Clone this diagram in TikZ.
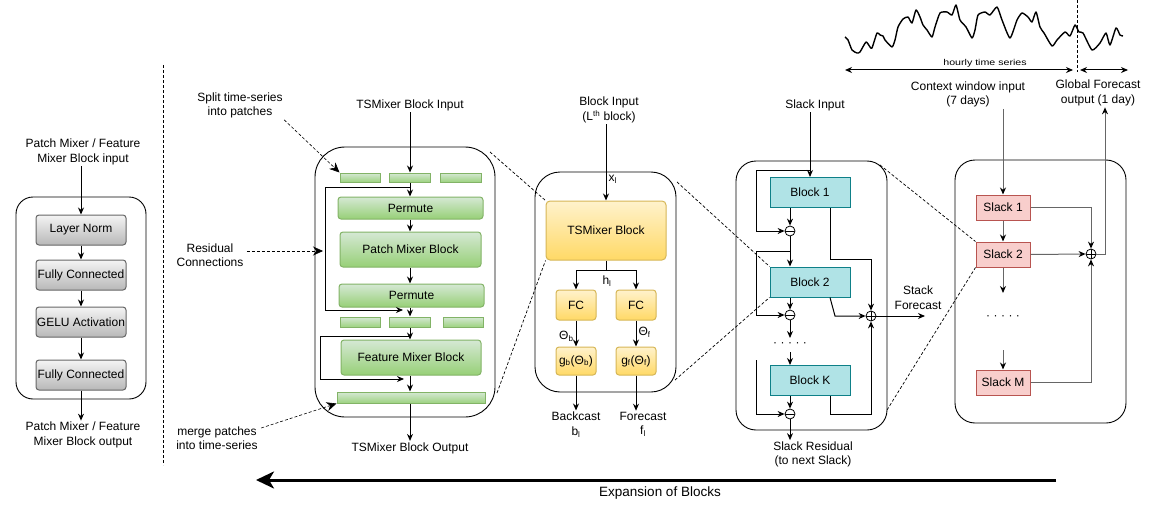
\documentclass[tikz,border=0pt]{standalone}
\usepackage{fontspec}
\setmainfont{Liberation Sans}
\usetikzlibrary{arrows.meta,calc}

\definecolor{grayedge}{HTML}{666666}
\definecolor{graytop}{HTML}{F4F4F4}
\definecolor{graybot}{HTML}{B8B8B8}
\definecolor{greenedge}{HTML}{82B366}
\definecolor{greentop}{HTML}{D5E8D4}
\definecolor{greenbot}{HTML}{97D077}
\definecolor{orangeedge}{HTML}{D6B656}
\definecolor{orangetop}{HTML}{FFF2CC}
\definecolor{orangebot}{HTML}{FFD966}
\definecolor{tealedge}{HTML}{0E8088}
\definecolor{tealfill}{HTML}{B0E3E6}
\definecolor{pinkedge}{HTML}{B85450}
\definecolor{pinkfill}{HTML}{F8CECC}

\begin{document}
\begin{tikzpicture}[
    x=1pt, y=-1pt,
    font=\fontsize{12}{14.5}\selectfont,
    line width=1pt,
    >={Stealth[length=7pt, width=6pt]},
    lbl/.style={align=center, inner sep=1pt},
    panel/.style={draw=black, line width=0.9pt},
    grayblk/.style={draw=grayedge, top color=graytop, bottom color=graybot, rounded corners=3pt,
      minimum width=90pt, minimum height=30pt, inner sep=0pt},
    greenblk/.style={draw=greenedge, top color=greentop, bottom color=greenbot, rounded corners=3pt, inner sep=0pt},
    patchblk/.style={draw=greenedge, top color=greentop, bottom color=greenbot!90!greentop, inner sep=0pt},
    orangeblk/.style={draw=orangeedge, top color=orangetop, bottom color=orangebot, rounded corners=4pt, inner sep=0pt},
    tealblk/.style={draw=tealedge, fill=tealfill, minimum width=80pt, minimum height=30pt, inner sep=0pt},
    pinkblk/.style={draw=pinkedge, fill=pinkfill, minimum width=54pt, minimum height=25pt, inner sep=0pt},
    diffop/.style={circle, draw, fill=white, line width=0.8pt, inner sep=0pt, minimum size=10pt,
      path picture={\draw[line width=0.8pt] (path picture bounding box.west) -- (path picture bounding box.east);}},
    sumop/.style={circle, draw, fill=white, line width=0.8pt, inner sep=0pt, minimum size=10pt,
      path picture={\draw[line width=0.8pt] (path picture bounding box.west) -- (path picture bounding box.east)
        (path picture bounding box.north) -- (path picture bounding box.south);}},
    annot/.style={line width=0.6pt, dash pattern=on 3pt off 2pt, -{Stealth[length=10pt, width=9pt]}},
    zoomln/.style={line width=0.7pt, dash pattern=on 3pt off 2pt},
    slk/.style={draw=grayedge, -{Stealth[length=7pt, width=6pt, black]}}
  ]
  \useasboundingbox (0,0) rectangle (1159,519);

  % ---------- mixer block (left)
  \node[panel, rounded corners=17pt, minimum width=130pt, minimum height=202pt] (lnPanel) at (81,298) {};
  \node[lbl] (mixIn) at (83,152) {Patch Mixer / Feature\\Mixer Block input};
  \node[grayblk] (ln1) at (81,230) {Layer Norm};
  \node[grayblk] (fc1) at (81,275) {Fully Connected};
  \node[grayblk] (gelu) at (81,322) {GELU Activation};
  \node[grayblk] (fc2) at (81,375) {Fully Connected};
  \node[lbl] (mixOut) at (83,435) {Patch Mixer / Feature\\Mixer Block output};
  \draw[->] (ln1.north |- mixIn.south) -- (ln1.north);
  \draw[->] (ln1) -- (fc1);
  \draw[->] (fc1) -- (gelu);
  \draw[->] (gelu) -- (fc2);
  \draw[->] (fc2.south) -- (fc2.south |- mixOut.north);

  % separator
  \draw[line width=0.8pt, dash pattern=on 3pt off 2pt] (163,65) -- (163,465);

  % ---------- TSMixer block
  \node[panel, rounded corners=30pt, minimum width=180pt, minimum height=270pt] (tsPanel) at (405,282) {};
  \node[lbl] (tsIn) at (410,105) {TSMixer Block Input};
  \node[patchblk, minimum width=40pt, minimum height=9pt] (pa1) at (360,177.5) {};
  \node[patchblk, minimum width=41pt, minimum height=9pt] (pa2) at (410,177.5) {};
  \node[patchblk, minimum width=41pt, minimum height=9pt] (pa3) at (460.5,177.5) {};
  \node[greenblk, minimum width=145pt, minimum height=22pt] (perm1) at (410.5,208) {Permute};
  \node[greenblk, minimum width=141pt, minimum height=35pt] (pmix) at (410.5,249.5) {Patch Mixer Block};
  \node[greenblk, minimum width=145pt, minimum height=23pt] (perm2) at (411.5,295.5) {Permute};
  \node[patchblk, minimum width=40pt, minimum height=10pt] (pb1) at (360,322) {};
  \node[patchblk, minimum width=41pt, minimum height=10pt] (pb2) at (410,322) {};
  \node[patchblk, minimum width=40pt, minimum height=10pt] (pb3) at (463,322) {};
  \node[greenblk, minimum width=140pt, minimum height=35pt] (fmix) at (411,357.5) {Feature Mixer Block};
  \node[patchblk, minimum width=148pt, minimum height=11pt] (mrg) at (411,397.5) {};
  \node[lbl] (tsOut) at (410,448) {TSMixer Block Output};
  \draw[->] (pa2.north |- tsIn.south) -- (pa2.north);
  \draw[->] (pa2.south) -- (pa2.south |- perm1.north);
  \draw[->] (pa2.south |- perm1.south) -- (pa2.south |- pmix.north);
  \draw[->] (pa2.south |- pmix.south) -- (pa2.south |- perm2.north);
  \draw[->] (pa2.south |- perm2.south) -- (pb2.north);
  \draw[->] (pb2.south) -- (pb2.south |- fmix.north);
  \draw[->] (pb2.south |- fmix.south) -- (pb2.south |- mrg.north);
  \draw[->] (pb2.south |- mrg.south) -- (pb2.south |- tsOut.north);
  % residual loops
  \coordinate (res1s) at (410,187);
  \coordinate (res1e) at (403,310);
  \draw[->] (res1s) -- (325,187) -- (325,310) -- (res1e);
  \coordinate (res2s) at (410,336);
  \coordinate (res2e) at (404,379);
  \draw[->] (res2s) -- (320,336) -- (320,379) -- (res2e);

  % notes
  \node[lbl] (splitLbl) at (240,105.5) {Split time-series\\into patches};
  \node[lbl] (resLbl) at (210,255) {Residual\\Connections};
  \node[lbl] (mrgLbl) at (217,438) {merge patches\\into time-series};
  \draw[annot] (splitLbl.south east) -- (pa1.north west);
  \draw[annot] ($(resLbl.east)+(2,-4)$) -- (323,251);
  \draw[annot] ($(mrgLbl.east)+(2,-10)$) -- (mrg.south west);

  % ---------- block L
  \node[panel, rounded corners=25pt, minimum width=141pt, minimum height=220pt] (blkPanel) at (605.5,282) {};
  \node[lbl] (blkIn) at (609,110) {Block Input\\(L\textsuperscript{th} block)};
  \node[orangeblk, minimum width=120pt, minimum height=59pt] (tsb) at (606,230.5) {TSMixer Block};
  \node[orangeblk, rounded corners=3pt, minimum width=40pt, minimum height=30pt] (fcb) at (576,305) {FC};
  \node[orangeblk, rounded corners=3pt, minimum width=40pt, minimum height=30pt] (fcf) at (636,305) {FC};
  \node[orangeblk, rounded corners=3pt, minimum width=40pt, minimum height=28pt] (gb) at (576,361) {g\textsubscript{b}(Θ\textsubscript{b})};
  \node[orangeblk, rounded corners=3pt, minimum width=40pt, minimum height=28pt] (gf) at (636,361) {g\textsubscript{f}(Θ\textsubscript{f})};
  \node[lbl] (bcLbl) at (576,424.5) {Backcast\\b\textsubscript{l}};
  \node[lbl] (fcLbl) at (643,424.5) {Forecast\\f\textsubscript{l}};
  \draw[->] (tsb.north |- blkIn.south) -- (tsb.north) node[pos=0.72, right, inner sep=2pt] {x\textsubscript{l}};
  \coordinate (hs) at (606,270);
  \draw (tsb.south) -- (hs);
  \draw[->] (hs) -| (fcb.north);
  \draw[->] (hs) -| (fcf.north);
  \node[lbl] (hlbl) at (607,281) {h\textsubscript{l}};
  \draw[->] (fcb) -- (gb) node[pos=0.6, left, inner sep=2pt] {Θ\textsubscript{b}};
  \draw[->] (fcf) -- (gf) node[pos=0.45, right, inner sep=2pt] {Θ\textsubscript{f}};
  \draw[->] (gb.south) -- (gb.south |- bcLbl.north);
  \draw[->] (gf.south) -- (gf.south |- fcLbl.north);

  % zoom lines
  \draw[zoomln] (490,152) -- (tsb.north west);
  \draw[zoomln] (497,393) -- (tsb.south west);

  % ---------- stack of blocks
  \node[panel, rounded corners=20pt, minimum width=151pt, minimum height=269pt] (stkPanel) at (811.5,295.5) {};
  \node[lbl] (stkIn) at (815,105) {Slack Input};
  \node[tealblk] (b1) at (810,192.5) {Block 1};
  \node[diffop] (m1) at (790,231) {};
  \node[tealblk] (b2) at (810,282) {Block 2};
  \node[diffop] (m2) at (790,315) {};
  \node (bdots) at (790,345) {·\hspace{3.5pt}·\hspace{3.5pt}·\hspace{3.5pt}·\hspace{3.5pt}·};
  \node[tealblk] (bK) at (810,380.5) {Block K};
  \node[diffop] (m3) at (790,414) {};
  \node[sumop] (ps) at (871,316) {};
  \node[lbl] (stkRes) at (813,454.5) {Slack Residual\\(to next Slack)};
  \node[lbl] (stkFc) at (918,297.5) {Stack\\Forecast};
  \draw[->] (b1.north |- stkIn.south) -- (b1.north);
  \coordinate (lp1) at (810,170);
  \draw[->] (lp1) -- (756,170) -- (756,231) -- (m1.west);
  \draw[->] (b1.south -| m1) -- (m1.north);
  \draw[->] (m1.south) -- (m1 |- b2.north);
  \coordinate (lp2) at (790,251);
  \draw[->] (lp2) -- (756,251) -- (756,315) -- (m2.west);
  \draw[->] (b2.south -| m2) -- (m2.north);
  \coordinate (d1) at (790,338);
  \draw[->] (m2.south) -- (d1);
  \coordinate (d2) at (790,352);
  \draw[->] (d2) -- (m3 |- bK.north);
  \draw[->] (756,360) -- (756,414) -- (m3.west);
  \draw[->] (bK.south -| m3) -- (m3.north);
  \draw[->] (m3.south) -- (m3 |- stkRes.north);
  % forecast sums
  \draw[->] ($(b1.south)+(20,0)$) -- (830,259) -- (871,259) -- (ps.north);
  \draw[->] ($(b2.south)+(20,0)$) -- (835,316) -- (ps.west);
  \draw[->] ($(bK.south)+(20,0)$) -- (830,414) -- (871,414) -- (ps.south);
  \coordinate (fcEnd) at (925,316);
  \draw[->] (ps.east) -- (fcEnd);

  \draw[zoomln] (677,182) -- (b2.north west);
  \draw[zoomln] (675,380) -- (b2.south west);

  % ---------- stack of slacks
  \node[panel, rounded corners=20pt, minimum width=171pt, minimum height=263pt] (slkPanel) at (1040.5,291.5) {};
  \node[lbl] (ctxIn) at (968,94.5) {Context window input\\(7 days)};
  \node[lbl] (gOut) at (1098,93) {Global Forecast\\output (1 day)};
  \node[pinkblk] (s1) at (1003,207.5) {Slack 1};
  \node[pinkblk] (s2) at (1003,254.5) {Slack 2};
  \node (sdots) at (1003,318) {·\hspace{3.5pt}·\hspace{3.5pt}·\hspace{3.5pt}·\hspace{3.5pt}·};
  \node[pinkblk] (sM) at (1003,382.5) {Slack M};
  \node[sumop] (qs) at (1091,254) {};
  \draw[slk] (s1.north |- ctxIn.south) -- (s1.north);
  \draw[slk] (s1) -- (s2);
  \coordinate (sd1) at (1003,293);
  \draw[slk] (s2.south) -- (sd1);
  \coordinate (sd2) at (1003,350);
  \draw[slk] (sd2) -- (sM.north);
  \draw[slk] (s1.east) -- (1091,207.5) -- (qs.north);
  \draw[slk] (s2.east) -- (qs.west);
  \draw[slk] (sM.east) -- (1091,382.5) -- (qs.south);
  \coordinate (gTurn) at (1105,254);
  \draw[slk] (qs.east) -- (gTurn) -- (gTurn |- gOut.south);

  \draw[zoomln] (880,165) -- (s2.north west);
  \draw[zoomln] (887,410) -- (s2.south west);

  % ---------- hourly series on top
  \draw[line width=1.4pt, line join=round] plot[smooth, tension=0.35] coordinates {
    (845,37) (848,40) (852,50) (857,53) (860,52) (866,42) (870,47) (872,48) (877,33) (880,35)
    (883,36) (885,40) (892,47) (895,40) (898,27) (903,19) (908,17) (912,23) (916,10) (920,17)
    (923,25) (927,30) (932,37) (935,27) (940,13) (947,12) (952,15) (956,5) (960,20) (966,27)
    (972,38) (975,30) (978,15) (985,12) (990,15) (997,7) (1002,20) (1010,38) (1017,20) (1022,13)
    (1028,17) (1032,22) (1036,12) (1040,27) (1044,33) (1052,46) (1057,40) (1065,32) (1070,36) (1075,25)
    (1079,32) (1083,33) (1092,50) (1100,43) (1106,33) (1110,45) (1116,28) (1120,35) (1123,36)};
  \node[font=\fontsize{8.5}{10}\selectfont] (tsName) at (985,63) {\scalebox{1.25}[1]{hourly time series}};
  \coordinate (ctxA) at (845,70);
  \coordinate (ctxB) at (1073,70);
  \coordinate (fcA) at (1080,70);
  \coordinate (fcB) at (1128,70);
  \draw[<->] (ctxA) -- (ctxB);
  \draw[<->] (fcA) -- (fcB);
  \draw[line width=0.8pt, dash pattern=on 3pt off 2pt] (1077,0) -- (1077,72);

  % ---------- expansion arrow
  \coordinate (expS) at (1056,480);
  \coordinate (expE) at (256,480);
  \draw[line width=3pt, -{Stealth[length=18pt, width=17pt, inset=5pt]}] (expS) -- (expE);
  \node[font=\fontsize{13.5}{16}\selectfont] (expLbl) at (660,493) {Expansion of Blocks};
\end{tikzpicture}
\end{document}
